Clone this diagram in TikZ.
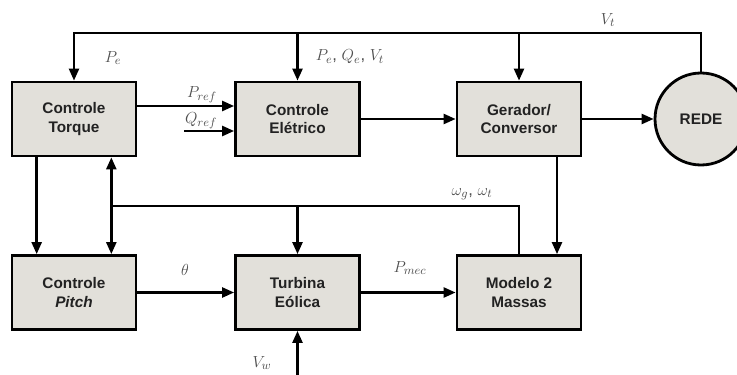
\documentclass[tikz,border=0pt]{standalone}
\usepackage{fontspec}
\setmainfont{Liberation Sans}
\usetikzlibrary{arrows.meta}

\definecolor{cinza}{RGB}{226,224,218}
\definecolor{texto}{RGB}{34,34,34}

\tikzset{
  bloco/.style={draw, line width=2.1pt, fill=cinza, text=texto, font=\bfseries\fontsize{11.5}{14}\selectfont,
    align=center, minimum width=93pt, minimum height=55.5pt, inner sep=0pt},
  seta/.style={-{Triangle[length=9pt,width=7.5pt]}, line width=1.8pt},
  rotulo/.style={text=texto!80, font=\fontsize{12.5}{14}\selectfont, inner sep=1pt}
}

\begin{document}
\begin{tikzpicture}[x=0.75pt, y=-0.75pt]
  \clip (0,0) rectangle (737,374);

  % Blocos
  \node[bloco] (torque)   at (74,119)    {Controle\\Torque};
  \node[bloco] (eletrico) at (297.5,119) {Controle\\Elétrico};
  \node[bloco] (gerador)  at (519,119)   {Gerador/\\Conversor};
  \node[bloco] (pitch)    at (74,292.5)    {Controle\\\itshape Pitch};
  \node[bloco] (turbina)  at (297.5,292.5) {Turbina\\Eólica};
  \node[bloco] (modelo)   at (519,292.5)   {Modelo 2\\Massas};
  \node[bloco, circle, minimum size=69pt] (rede) at (701,119) {REDE};

  % Realimentacao superior (V_t)
  \coordinate (topo) at (701,33);
  \draw[seta] (rede.north) -- (topo) -| (torque.north);
  \draw[seta] (eletrico.north |- topo) -- (eletrico.north);
  \draw[seta] (gerador.north |- topo) -- (gerador.north);

  % Ligacoes da linha de cima
  \draw[seta] (torque.east |- 0,106) -- (eletrico.west |- 0,106);
  \coordinate (qref) at (184,131);
  \draw[seta] (qref) -- (eletrico.west |- qref);
  \draw[seta] (eletrico) -- (gerador);
  \draw[seta] (gerador) -- (rede);

  % Ligacoes verticais
  \draw[seta] ([xshift=-28pt]torque.south) -- ([xshift=-28pt]pitch.north);
  \draw[seta] ([xshift=28.5pt]gerador.south) -- ([xshift=28.5pt]modelo.north);

  % Realimentacao de velocidade
  \coordinate (realim) at (519,206);
  \draw[seta] (modelo.north) -- (realim) -| ([xshift=28pt]torque.south);
  \draw[seta] ([xshift=28pt]torque.south |- realim) -- ([xshift=28pt]pitch.north);
  \draw[seta] (turbina.north |- realim) -- (turbina.north);

  % Ligacoes da linha de baixo
  \draw[seta] (pitch) -- (turbina);
  \draw[seta] (turbina) -- (modelo);
  \coordinate (vento) at (297.5,380);
  \draw[seta] (vento) -- (turbina.south);

  % Rotulos
  \node[rotulo] (pe)    at (113,58)  {$P_e$};
  \node[rotulo] (peqv)  at (350,57)  {$P_e$, $Q_e$, $V_t$};
  \node[rotulo] (vt)    at (608,20)  {$V_t$};
  \node[rotulo] (lpref) at (202,95)  {$P_{ref}$};
  \node[rotulo] (lqref) at (201,121) {$Q_{ref}$};
  \node[rotulo] (teta)  at (185,270) {$\theta$};
  \node[rotulo] (pmec)  at (410,268) {$P_{mec}$};
  \node[rotulo] (omega) at (472,194) {$\omega_g$, $\omega_t$};
  \node[rotulo] (vw)    at (262,363) {$V_w$};
\end{tikzpicture}
\end{document}
